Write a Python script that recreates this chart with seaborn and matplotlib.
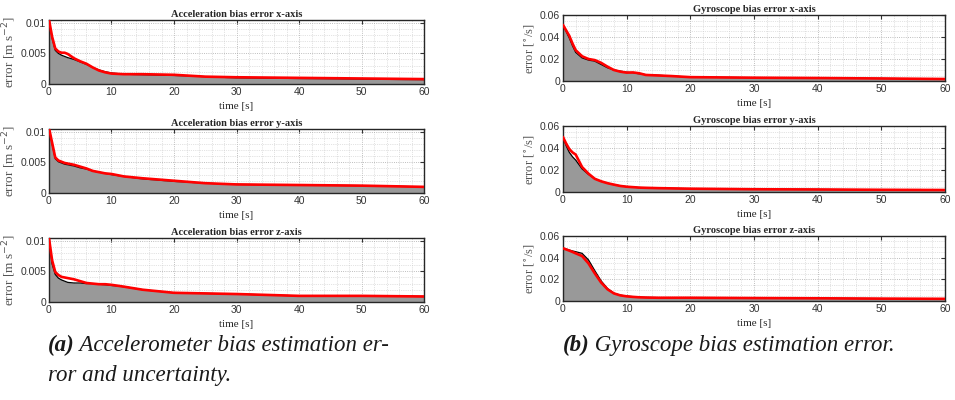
import numpy as np
import pandas as pd
import matplotlib
matplotlib.use("Agg")
import matplotlib.pyplot as plt
from matplotlib.ticker import MultipleLocator
import seaborn as sns

# ---- data -------------------------------------------------------------
t_acc = [0, 0.5, 1, 1.5, 2, 2.5, 3, 4, 5, 6, 7, 8, 9, 10, 12, 15, 20, 25, 30, 40, 50, 60]

acc_x_err = [0.0105, 0.0075, 0.0055, 0.0050, 0.0047, 0.0045, 0.0043, 0.0040, 0.0036, 0.0032, 0.0027,
             0.0023, 0.0020, 0.0018, 0.0016, 0.0015, 0.0014, 0.0012, 0.0010, 0.0009, 0.0008, 0.0007]
acc_x_sig = [0.0105, 0.0077, 0.0058, 0.0053, 0.0051, 0.0051, 0.0049, 0.0042, 0.0037, 0.0033, 0.0027,
             0.0022, 0.0019, 0.0017, 0.0016, 0.0016, 0.0015, 0.0012, 0.0011, 0.0010, 0.0009, 0.0008]

acc_y_err = [0.0106, 0.0080, 0.0056, 0.0051, 0.0049, 0.0047, 0.0046, 0.0044, 0.0041, 0.0039, 0.0036,
             0.0034, 0.0032, 0.0030, 0.0027, 0.0023, 0.0019, 0.0016, 0.0014, 0.0013, 0.0012, 0.0010]
acc_y_sig = [0.0106, 0.0082, 0.0058, 0.0053, 0.0051, 0.0049, 0.0048, 0.0046, 0.0043, 0.0040, 0.0036,
             0.0034, 0.0032, 0.0031, 0.0027, 0.0024, 0.0020, 0.0016, 0.0014, 0.0013, 0.0012, 0.0010]

acc_z_err = [0.0104, 0.0062, 0.0045, 0.0039, 0.0036, 0.0034, 0.0032, 0.0031, 0.0031, 0.0030, 0.0030,
             0.0029, 0.0028, 0.0027, 0.0025, 0.0020, 0.0015, 0.0014, 0.0013, 0.0010, 0.0010, 0.0009]
acc_z_sig = [0.0104, 0.0068, 0.0049, 0.0044, 0.0041, 0.0040, 0.0039, 0.0037, 0.0034, 0.0031, 0.0030,
             0.0029, 0.0029, 0.0028, 0.0025, 0.0020, 0.0015, 0.0014, 0.0013, 0.0010, 0.0010, 0.0009]

t_gyr = [0, 0.5, 1, 1.5, 2, 3, 4, 5, 6, 7, 8, 9, 10, 11, 12, 13, 15, 17, 20, 30, 40, 50, 60]

gyr_x_err = [0.051, 0.045, 0.039, 0.032, 0.026, 0.021, 0.019, 0.018, 0.015, 0.012, 0.010, 0.009,
             0.008, 0.0075, 0.0065, 0.0058, 0.0052, 0.0045, 0.0035, 0.003, 0.0027, 0.0023, 0.0018]
gyr_x_sig = [0.051, 0.046, 0.041, 0.034, 0.028, 0.0225, 0.020, 0.019, 0.0165, 0.013, 0.010, 0.0085,
             0.0076, 0.0078, 0.007, 0.0055, 0.005, 0.0045, 0.0035, 0.003, 0.0027, 0.0023, 0.0018]

gyr_y_err = [0.050, 0.042, 0.036, 0.032, 0.029, 0.021, 0.016, 0.012, 0.0097, 0.008, 0.0067, 0.0056,
             0.0049, 0.0044, 0.004, 0.0038, 0.0035, 0.0033, 0.003, 0.0025, 0.0023, 0.002, 0.0018]
gyr_y_sig = [0.050, 0.044, 0.039, 0.036, 0.034, 0.0227, 0.0167, 0.012, 0.0097, 0.008, 0.0067, 0.0055,
             0.0048, 0.0044, 0.004, 0.0038, 0.0035, 0.0033, 0.003, 0.0025, 0.0023, 0.002, 0.0018]

gyr_z_err = [0.049, 0.048, 0.047, 0.0462, 0.0455, 0.044, 0.038, 0.028, 0.0185, 0.0115, 0.0072, 0.0054,
             0.0045, 0.004, 0.0035, 0.0033, 0.0031, 0.003, 0.003, 0.0027, 0.0025, 0.0022, 0.002]
gyr_z_sig = [0.0486, 0.0476, 0.0465, 0.0453, 0.044, 0.0415, 0.0348, 0.0255, 0.017, 0.0108, 0.007, 0.0052,
             0.0043, 0.0038, 0.0034, 0.0032, 0.003, 0.003, 0.003, 0.0027, 0.0025, 0.0022, 0.002]

x_ticks = [0, 10, 20, 30, 40, 50, 60]
acc_yticks = [0, 0.005, 0.01]
acc_yticklabels = ["0", "0.005", "0.01"]
gyr_yticks = [0, 0.02, 0.04, 0.06]
gyr_yticklabels = ["0", "0.02", "0.04", "0.06"]

acc_titles = ["Acceleration bias error x-axis", "Acceleration bias error y-axis",
              "Acceleration bias error z-axis"]
gyr_titles = ["Gyroscope bias error x-axis", "Gyroscope bias error y-axis",
              "Gyroscope bias error z-axis"]

# ---- style ------------------------------------------------------------
sns.set_theme(style="white")
plt.rcParams["font.family"] = ["Liberation Sans", "DejaVu Sans"]
SERIF = ["Liberation Serif", "DejaVu Serif"]

fig = plt.figure(figsize=(9.55, 4.0), dpi=100)

left_pos = [(0.0513, 0.790, 0.3927, 0.160),
            (0.0513, 0.5175, 0.3927, 0.160),
            (0.0513, 0.245, 0.3927, 0.160)]
right_pos = [(0.5895, 0.7975, 0.400, 0.165),
             (0.5895, 0.520, 0.400, 0.165),
             (0.5895, 0.2475, 0.400, 0.1625)]


def panel(pos, t, err, sig, title, ylabel, yticks, yticklabels, ymax, yminor, ylsize):
    ax = fig.add_axes(pos)
    df = pd.DataFrame({"t": t, "err": err, "sig": sig})
    # estimation error as a grey area, its 1-sigma bound in red
    ax.fill_between(df["t"], 0, df["err"], color="#999999", linewidth=0, zorder=2)
    sns.lineplot(data=df, x="t", y="err", ax=ax, color="black", linewidth=0.9, zorder=3)
    sns.lineplot(data=df, x="t", y="sig", ax=ax, color="#ff0000", linewidth=1.9, zorder=4)
    ax.set_xlim(0, 60)
    ax.set_ylim(0, ymax)
    ax.set_xticks(x_ticks)
    ax.set_xticklabels([str(v) for v in x_ticks])
    ax.set_yticks(yticks)
    ax.set_yticklabels(yticklabels)
    ax.xaxis.set_minor_locator(MultipleLocator(2))
    ax.yaxis.set_minor_locator(MultipleLocator(yminor))
    ax.grid(which="major", linestyle=":", color="#a8a8a8", linewidth=0.6, zorder=0)
    ax.grid(which="minor", linestyle=":", color="#c8c8c8", linewidth=0.5, zorder=0)
    ax.set_axisbelow(True)
    ax.tick_params(which="major", direction="in", length=3, width=0.8, top=True, right=True,
                   labelsize=7.5, colors="#333333", pad=2)
    ax.tick_params(which="minor", length=0)
    for s in ax.spines.values():
        s.set_color("#262626")
        s.set_linewidth(1.0)
    ax.set_title(title, fontsize=7.5, fontweight="bold", family=SERIF, pad=2)
    ax.set_xlabel("time [s]", fontsize=8, family=SERIF, labelpad=4)
    ax.set_ylabel(ylabel, fontsize=ylsize, family=SERIF, color="#555555", labelpad=2)
    return ax


acc_err = [acc_x_err, acc_y_err, acc_z_err]
acc_sig = [acc_x_sig, acc_y_sig, acc_z_sig]
gyr_err = [gyr_x_err, gyr_y_err, gyr_z_err]
gyr_sig = [gyr_x_sig, gyr_y_sig, gyr_z_sig]

for i in range(3):
    panel(left_pos[i], t_acc, acc_err[i], acc_sig[i], acc_titles[i],
          r"error [m s$^{-2}$]", acc_yticks, acc_yticklabels, 0.01044, 0.001, 9.5)
    panel(right_pos[i], t_gyr, gyr_err[i], gyr_sig[i], gyr_titles[i],
          r"error [$^{\circ}$/s]", gyr_yticks, gyr_yticklabels, 0.06, 0.005, 9)

# ---- sub-captions -----------------------------------------------------
cap = dict(fontsize=16.5, family=SERIF, style="italic", color="#1a1a1a")
a1 = fig.text(0.050, 0.122, "(a)", fontweight="bold", **cap)
fig.add_artist(plt.Annotation(" Accelerometer bias estimation er-", xy=(1, 0),
                              xycoords=a1, va="bottom", **cap))
fig.text(0.050, 0.047, "ror and uncertainty.", **cap)
b1 = fig.text(0.589, 0.122, "(b)", fontweight="bold", **cap)
fig.add_artist(plt.Annotation(" Gyroscope bias estimation error.", xy=(1, 0),
                              xycoords=b1, va="bottom", **cap))

fig.savefig("out.png", dpi=100, facecolor="white")
